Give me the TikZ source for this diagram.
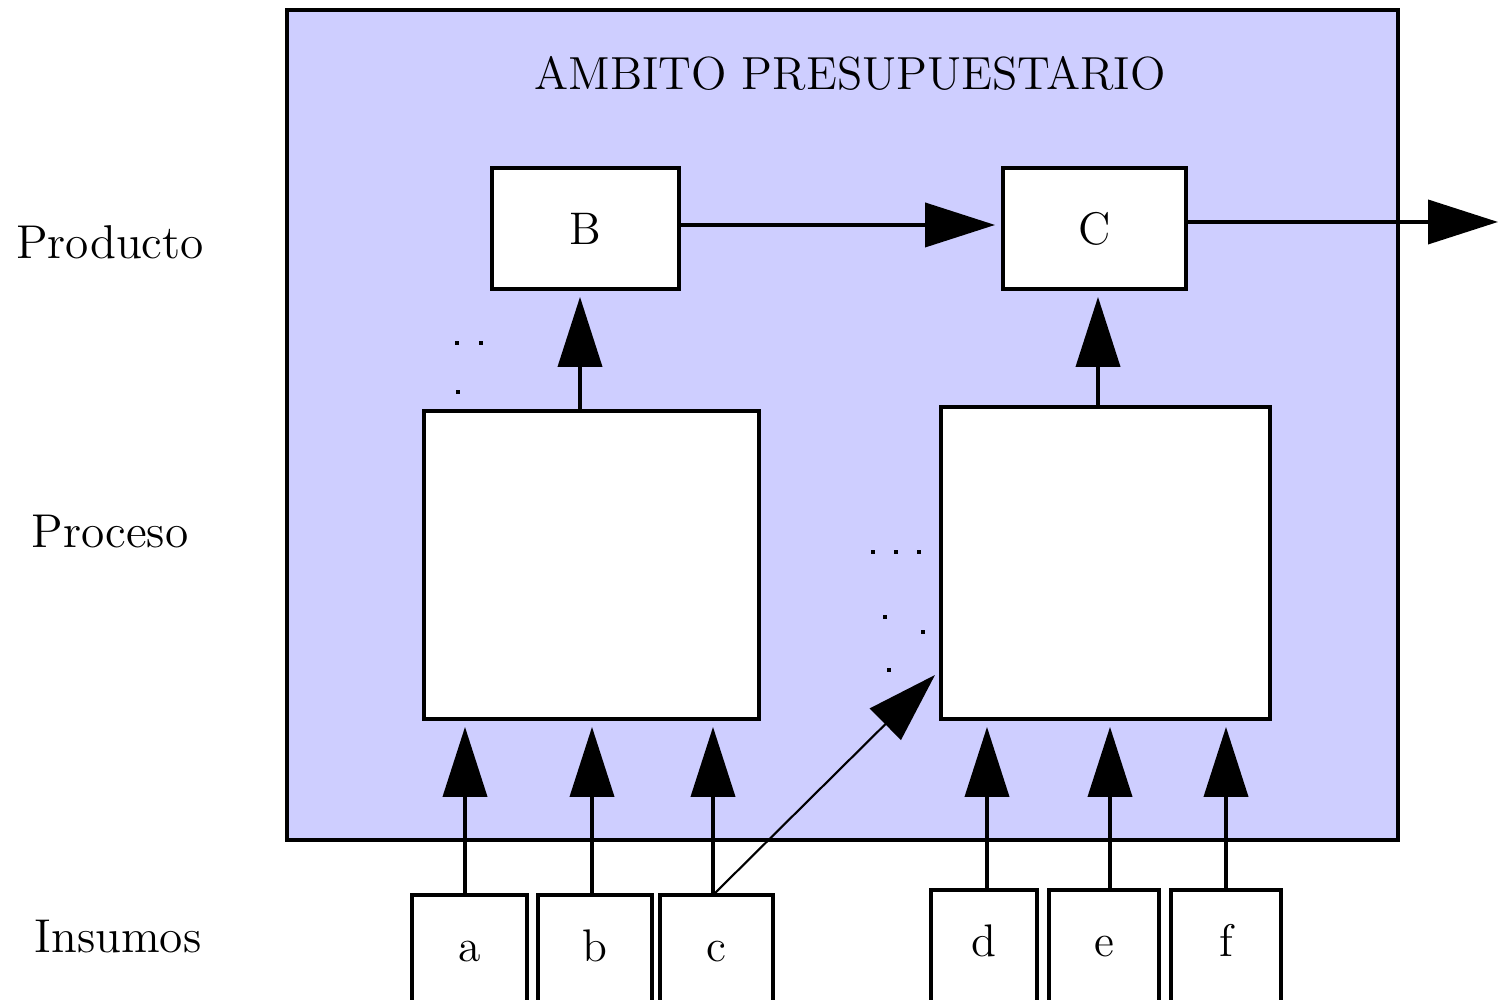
\documentclass[tikz,border=0pt]{standalone}
\usetikzlibrary{arrows.meta}
\definecolor{ambito}{RGB}{206,206,255}
\tikzset{
    caja/.style={draw, line width=1.1pt, fill=white, rectangle, inner sep=0pt, font=\fontsize{13}{15}\selectfont},
    insumo/.style={caja, minimum height=1.2cm, text height=1.9ex, text depth=1ex},
    flecha/.style={line width=1.1pt, -{Triangle[length=0.7cm, width=0.44cm]}},
    etiqueta/.style={font=\fontsize{13.5}{16}\selectfont}
}
\begin{document}
\begin{tikzpicture}
    \useasboundingbox (0,0) rectangle (14.98,10);

    % Ambito presupuestario
    \draw[line width=1.1pt, fill=ambito] (2.87,1.60) rectangle (13.98,9.90);
    \node[font=\fontsize{13.2}{15}\selectfont] (titulo) at (8.50,9.27) {AMBITO PRESUPUESTARIO};

    % Labels on the left
    \node[etiqueta] (lprod) at (1.10,7.58) {Producto};
    \node[etiqueta] (lproc) at (1.10,4.68) {Proceso};
    \node[etiqueta] (lins) at (1.18,0.63) {Insumos};

    % Productos
    \node[caja, minimum width=1.87cm, minimum height=1.21cm] (B) at (5.855,7.715) {B};
    \node[caja, minimum width=1.83cm, minimum height=1.21cm] (C) at (10.945,7.715) {C};

    % Procesos
    \node[caja, minimum width=3.35cm, minimum height=3.08cm] (procB) at (5.915,4.35) {};
    \node[caja, minimum width=3.29cm, minimum height=3.12cm] (procC) at (11.055,4.37) {};

    % Insumos (bottom is cut by the page)
    \node[insumo, minimum width=1.15cm] (a) at (4.695,0.45) {a};
    \node[insumo, minimum width=1.14cm] (b) at (5.95,0.45) {b};
    \node[insumo, minimum width=1.13cm] (c) at (7.165,0.45) {c};
    \node[insumo, minimum width=1.06cm] (d) at (9.84,0.50) {d};
    \node[insumo, minimum width=1.10cm] (e) at (11.04,0.50) {e};
    \node[insumo, minimum width=1.10cm] (f) at (12.26,0.50) {f};

    % Connections
    \coordinate (salida) at (14.98,7.78);
    \coordinate (diag) at (9.35,3.25);
    \draw[flecha, shorten >=0.06cm] (B.east |- 0,7.75) -- (C.west |- 0,7.75);
    \draw[flecha] (C.east |- salida) -- (salida);
    \draw[flecha, shorten >=0.06cm] (procB.north -| 5.80,0) -- (B.south -| 5.80,0);
    \draw[flecha, shorten >=0.06cm] (procC.north -| 10.98,0) -- (C.south -| 10.98,0);
    \foreach \i/\x in {a/4.65, b/5.92, c/7.13}
        \draw[flecha, shorten >=0.06cm] (\i.north -| \x,0) -- (procB.south -| \x,0);
    \foreach \i/\x in {d/9.87, e/11.10, f/12.26}
        \draw[flecha, shorten >=0.06cm] (\i.north -| \x,0) -- (procC.south -| \x,0);
    \draw[line width=0.6pt, -{Triangle[length=0.7cm, width=0.44cm]}] (c.north -| 7.15,0) -- (diag);

    % Dots
    \foreach \x/\y in {4.57/6.57, 4.81/6.57, 4.58/6.08, 8.73/4.48, 8.96/4.48, 9.19/4.48, 8.85/3.83, 9.23/3.68, 8.89/3.30}
        \fill (\x-0.02,\y-0.02) rectangle (\x+0.02,\y+0.02);
\end{tikzpicture}
\end{document}
